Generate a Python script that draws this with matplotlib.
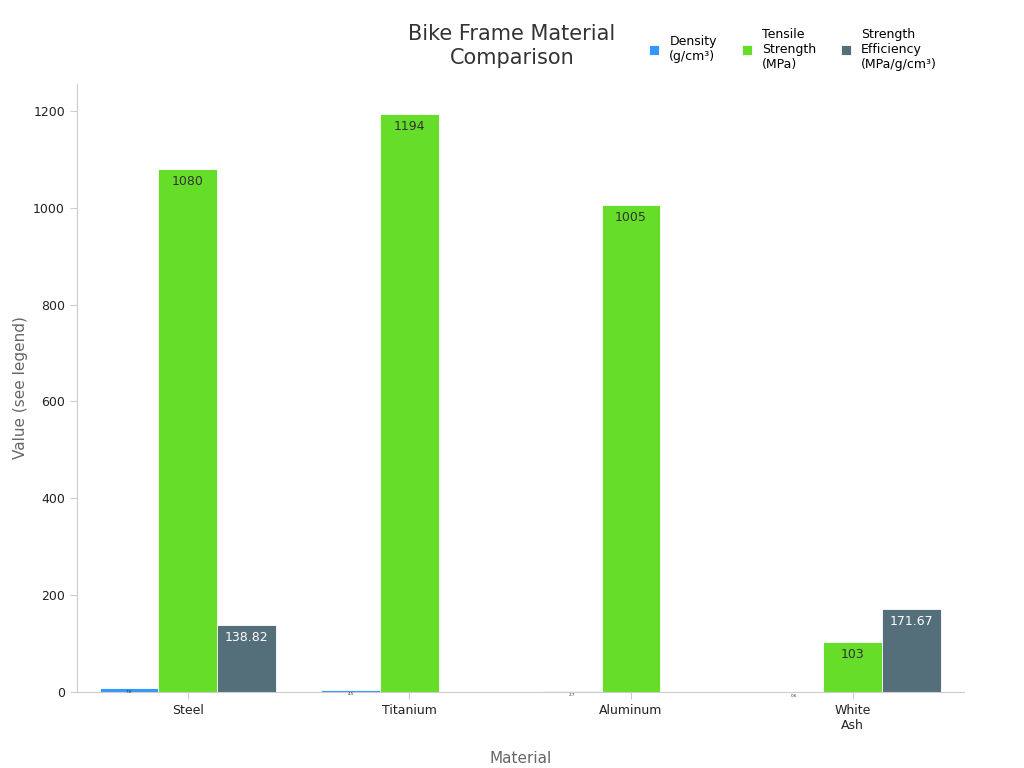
import numpy as np
import matplotlib.pyplot as plt

materials = ["Steel", "Titanium", "Aluminum", "White\nAsh"]
density = [7.8, 4.5, 2.7, 0.6]
tensile = [1080, 1194, 1005, 103]
efficiency = [138.82, np.nan, np.nan, 171.67]

series = ["Density\n(g/cm³)", "Tensile\nStrength\n(MPa)", "Strength\nEfficiency\n(MPa/g/cm³)"]
colors = ["#3399ff", "#66dd28", "#546e7a"]

fig = plt.figure(figsize=(10.24, 7.68), dpi=100)
ax = fig.add_axes([0.075, 0.099, 0.866, 0.792])

x = np.arange(len(materials))
w = 0.265
for i, (vals, c) in enumerate(zip([density, tensile, efficiency], colors)):
    bars = ax.bar(x + (i - 1) * w, vals, w, color=c, edgecolor="white", linewidth=0.6, label=series[i])
    for b, v in zip(bars, vals):
        if np.isnan(v):
            continue
        txt = f"{v:g}"
        fs = 9 if v > 50 else 3
        tc = "white" if i == 2 else "#333333"
        ax.text(b.get_x() + b.get_width() / 2, v - 4 if v < 50 else v - 12, txt,
                ha="center", va="top", fontsize=fs, color=tc)

ax.set_xticks(x)
ax.set_xticklabels(materials, fontsize=9, color="#222222")
ax.set_xlim(-0.5, 3.5)
ax.set_ylim(0, 1256)
ax.set_yticks(range(0, 1201, 200))
ax.tick_params(axis="y", labelsize=9, colors="#222222", length=5, color="#cccccc")
ax.tick_params(axis="x", length=5, color="#cccccc")
for s in ["top", "right"]:
    ax.spines[s].set_visible(False)
for s in ["left", "bottom"]:
    ax.spines[s].set_color("#cccccc")
ax.set_xlabel("Material", fontsize=11, color="#666666", labelpad=14)
ax.set_ylabel("Value (see legend)", fontsize=11, color="#666666")
fig.text(0.5, 0.94, "Bike Frame Material\nComparison", ha="center", va="center", fontsize=15, color="#333333")
ax.legend(loc="upper left", bbox_to_anchor=(0.64, 1.1), ncol=3, frameon=False, fontsize=9,
          handlelength=0.8, handleheight=0.8, columnspacing=2.0, borderaxespad=0)

fig.savefig("out.png", dpi=100)
